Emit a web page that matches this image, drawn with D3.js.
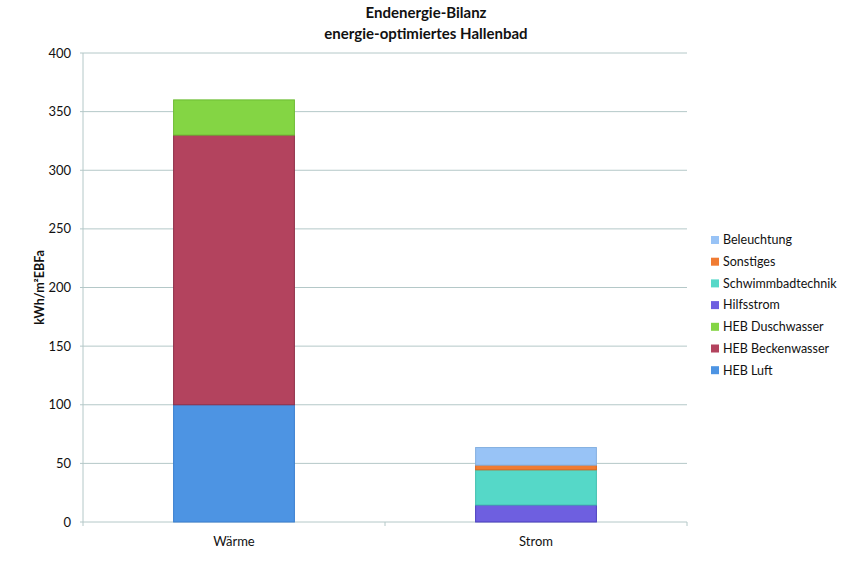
<!DOCTYPE html>
<html><head><meta charset="utf-8">
<script src="https://cdn.jsdelivr.net/npm/d3@7"></script>
<style>body{margin:0;background:#fff}svg{font-family:Lato,"Open Sans",sans-serif}</style>
</head><body><svg id="c" width="851" height="562"></svg>
<script>
const categories = ["Wärme", "Strom"];
const seriesNames = ["HEB Luft","HEB Beckenwasser","HEB Duschwasser","Hilfsstrom","Schwimmbadtechnik","Sonstiges","Beleuchtung"];
const seriesColors = ["#4d94e3","#b3435e","#84d544","#6e5fe0","#55d8c8","#f07b32","#98c3f6"];
const seriesStroke = ["#3a7fd0","#8f2f48","#6dbb33","#4a3fbf","#44c0b0","#d9651e","#85b0e0"];
const valuesWaerme = [100, 230, 30, 0, 0, 0, 0];
const valuesStrom  = [0, 0, 0, 14.5, 30, 4, 15];
const yTicks = [0,50,100,150,200,250,300,350,400];
const titleLines = ["Endenergie-Bilanz","energie-optimiertes Hallenbad"];
const yLabel = "kWh/m²EBFa";

const svg = d3.select("#c");
const m = {l:83, r:164, t:53, b:40};
const W = 851, H = 562;
const x = d3.scaleBand().domain(categories).range([m.l, W-m.r]).paddingInner(0.6).paddingOuter(0.3);
const y = d3.scaleLinear().domain([0,400]).range([H-m.b, m.t]);

svg.append("g").selectAll("line").data(yTicks).join("line")
  .attr("x1", m.l-3).attr("x2", W-m.r).attr("y1", d=>y(d)).attr("y2", d=>y(d))
  .attr("stroke","#b4c8c8").attr("stroke-width",1);
svg.append("line").attr("x1",m.l).attr("x2",m.l).attr("y1",y(400)).attr("y2",y(0)).attr("stroke","#b4c8c8");
svg.append("g").selectAll("line").data([m.l, (x("Wärme")+x.bandwidth()+x("Strom"))/2, W-m.r]).join("line")
  .attr("x1",d=>d).attr("x2",d=>d).attr("y1",y(0)).attr("y2",y(0)+4).attr("stroke","#b4c8c8");

svg.append("g").selectAll("text").data(yTicks).join("text")
  .attr("x", m.l-12).attr("y", d=>y(d)).attr("dy","0.35em").attr("text-anchor","end")
  .attr("font-size",13).attr("fill","#111").text(d=>d);

const data = [valuesWaerme, valuesStrom];
data.forEach((vals, ci) => {
  let acc = 0;
  vals.forEach((v, si) => {
    if (v <= 0) return;
    const y0 = acc, y1 = acc + v; acc = y1;
    svg.append("rect").attr("x", x(categories[ci])).attr("width", x.bandwidth())
      .attr("y", y(y1)).attr("height", y(y0)-y(y1))
      .attr("fill", seriesColors[si]).attr("stroke", seriesStroke[si]).attr("stroke-width",1);
  });
});

svg.append("g").selectAll("text").data(categories).join("text")
  .attr("x", d=>x(d)+x.bandwidth()/2).attr("y", 546).attr("text-anchor","middle")
  .attr("font-size",13).attr("fill","#111").text(d=>d);

svg.append("text").attr("transform",`translate(40,${y(200)}) rotate(-90)`)
  .attr("text-anchor","middle").attr("dy","0.35em").attr("font-size",12.5).attr("font-weight","bold").attr("fill","#111").text(yLabel);

svg.selectAll(".title").data(titleLines).join("text")
  .attr("x", 426).attr("y",(d,i)=>18+i*20.5).attr("text-anchor","middle")
  .attr("font-size",15).attr("font-weight","bold").attr("fill","#111").text(d=>d);

const legOrder = seriesNames.map((n,i)=>i).reverse();
const lg = svg.append("g").selectAll("g").data(legOrder).join("g")
  .attr("transform",(d,i)=>`translate(711,${240+i*21.7})`);
lg.append("rect").attr("x",0).attr("y",-4).attr("width",8).attr("height",8).attr("fill",d=>seriesColors[d]);
lg.append("text").attr("x",12).attr("dy","0.35em").attr("font-size",12.5).attr("fill","#111").text(d=>seriesNames[d]);
</script></body></html>
